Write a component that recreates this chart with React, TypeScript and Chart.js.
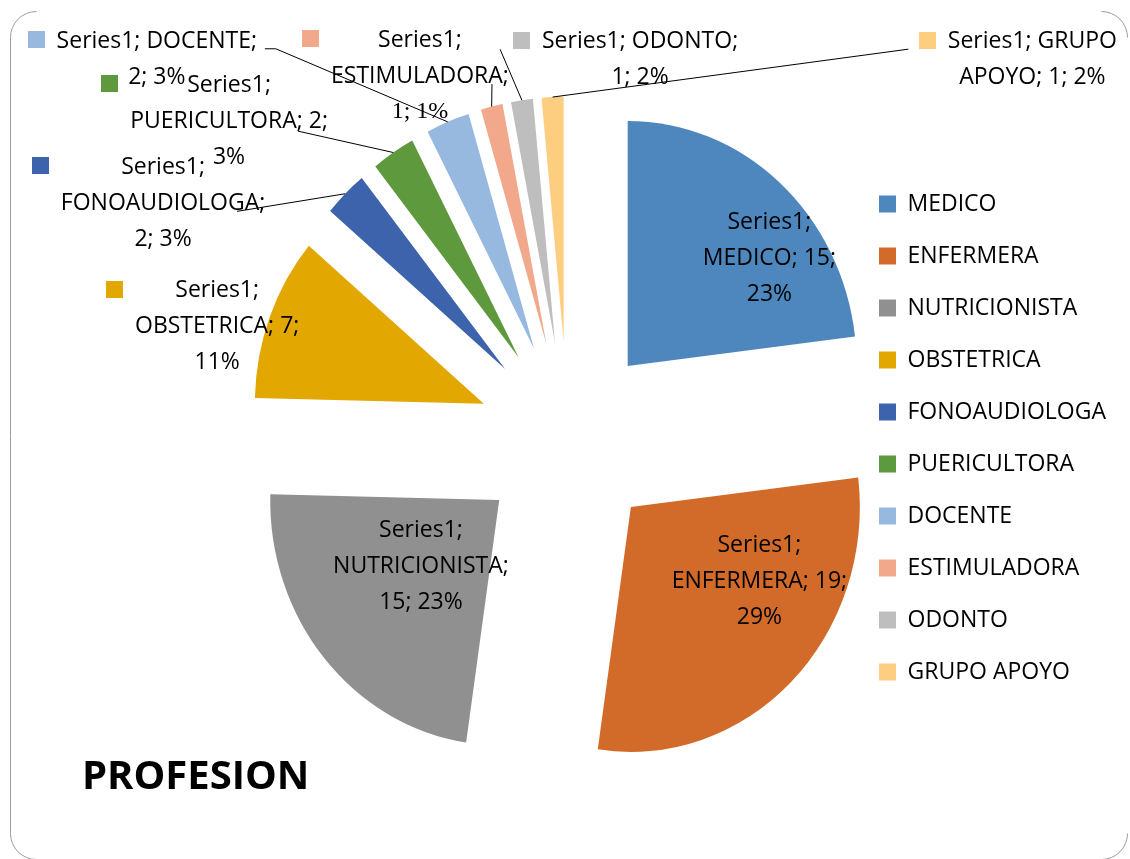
import React, { useEffect, useRef } from "react";
import { Chart, registerables } from "chart.js";

Chart.register(...registerables);

// ---------- data ----------
const seriesName = "Series1";
const categories = [
  "MEDICO",
  "ENFERMERA",
  "NUTRICIONISTA",
  "OBSTETRICA",
  "FONOAUDIOLOGA",
  "PUERICULTORA",
  "DOCENTE",
  "ESTIMULADORA",
  "ODONTO",
  "GRUPO APOYO",
];
const values = [15, 19, 15, 7, 2, 2, 2, 1, 1, 1];
const percentLabels = [23, 29, 23, 11, 3, 3, 3, 1, 2, 2];
const colors = [
  "#4E87BE",
  "#D26B2A",
  "#909090",
  "#E2A700",
  "#3C63AC",
  "#5F993D",
  "#97B9E0",
  "#F1A88B",
  "#BEBEBE",
  "#FECE80",
];
const chartTitle = "PROFESION";

// ---------- label layout ----------
// number of words on each wrapped line of every data label
const labelLineWords = [
  [1, 2, 1],
  [1, 2, 1],
  [1, 1, 2],
  [1, 2, 1],
  [1, 1, 2],
  [1, 2, 1],
  [2, 2],
  [1, 1, 2],
  [2, 2],
  [2, 3],
];
// distance of label centre from pie centre and angular shift from slice middle (deg)
const labelRadius = [270, 239, 195, 368, 468, 464, 559, 391, 385, 599];
const labelAngleShift = [6.7, -8.9, -0.9, -3.2, -15.6, -13.7, -25.2, -8.4, 19.1, 53.6];
// leader line start relative to label centre
const leaderFrom: (number[] | null)[] = [
  null,
  null,
  null,
  null,
  [74, 8],
  [69, 10],
  [108, -10.5],
  [72, 8],
  [-140, -10.5],
  [-124, -10.5],
];
const leaderJog = [0, 0, 0, 0, 0, 0, 11, 0, 0, 0];
const serifLastLine = [false, false, false, false, false, false, false, true, false, false];

const FONT_FAMILY = "'Open Sans', sans-serif";
const LABEL_SIZE = 23;
const LINE_H = 36;
const PIE_RADIUS = 229;
const EXPLODE = 90;
const Y_STRETCH = 1.07;
const LEGEND_LEFT = 850;
const LEGEND_PAD = 29;
const LEGEND_BOX = 17;

const pieCenter = (chart: any) => {
  const a = chart.chartArea;
  return { cx: (a.left + a.right) / 2, cy: (a.top + a.bottom) / 2 };
};

const excelPlugin = {
  id: "excelLook",
  beforeDraw(chart: any) {
    const ctx = chart.ctx;
    ctx.save();
    ctx.fillStyle = "#ffffff";
    ctx.fillRect(0, 0, chart.width, chart.height);
    // chart-area frame (only its left side and corners show in the picture)
    const x0 = 10.5, y0 = 11.5, x1 = chart.width - 2.5, y1 = chart.height + 0.5, r = 26;
    ctx.strokeStyle = "#9c9c9c";
    ctx.lineWidth = 1;
    ctx.beginPath();
    ctx.arc(x0 + r, y0 + r, r, Math.PI * 1.5, Math.PI, true);
    ctx.lineTo(x0, y1 - r);
    ctx.arc(x0 + r, y1 - r, r, Math.PI, Math.PI * 0.5, true);
    ctx.moveTo(x1 - r, y0);
    ctx.arc(x1 - r, y0 + r, r, Math.PI * 1.5, 0);
    ctx.moveTo(x1, y1 - r);
    ctx.arc(x1 - r, y1 - r, r, 0, Math.PI * 0.5);
    ctx.stroke();
    ctx.restore();
  },
  afterDatasetsUpdate(chart: any) {
    // explode every slice along its middle angle
    const meta = chart.getDatasetMeta(0);
    meta.data.forEach((arc: any) => {
      const mid = (arc.startAngle + arc.endAngle) / 2;
      arc.x += EXPLODE * Math.cos(mid);
      arc.y += EXPLODE * Math.sin(mid);
    });
  },
  beforeDatasetDraw(chart: any) {
    const ctx = chart.ctx;
    const { cy } = pieCenter(chart);
    ctx.save();
    ctx.translate(0, cy);
    ctx.scale(1, Y_STRETCH);
    ctx.translate(0, -cy);
  },
  afterDatasetDraw(chart: any) {
    chart.ctx.restore();
  },
  afterDatasetsDraw(chart: any) {
    const ctx = chart.ctx;
    const meta = chart.getDatasetMeta(0);
    const { cx, cy } = pieCenter(chart);
    ctx.save();
    meta.data.forEach((arc: any, i: number) => {
      const mid = (arc.startAngle + arc.endAngle) / 2;
      const ang = mid + (labelAngleShift[i] * Math.PI) / 180;
      const bx = cx + labelRadius[i] * Math.cos(ang);
      const by = cy + labelRadius[i] * Math.sin(ang);
      const words = `${seriesName}; ${categories[i]}; ${values[i]}; ${percentLabels[i]}%`.split(" ");
      const lines: string[] = [];
      let w = 0;
      labelLineWords[i].forEach((n) => {
        lines.push(words.slice(w, w + n).join(" "));
        w += n;
      });
      const sansFont = `${LABEL_SIZE}px ${FONT_FAMILY}`;
      const serifFont = `24px 'Liberation Serif', serif`;
      let blockW = 0;
      lines.forEach((l, k) => {
        ctx.font = serifLastLine[i] && k === lines.length - 1 ? serifFont : sansFont;
        blockW = Math.max(blockW, ctx.measureText(l).width);
      });
      const top = by - ((lines.length - 1) * LINE_H) / 2;
      ctx.fillStyle = "#000";
      ctx.textAlign = "center";
      ctx.textBaseline = "middle";
      lines.forEach((l, k) => {
        ctx.font = serifLastLine[i] && k === lines.length - 1 ? serifFont : sansFont;
        ctx.fillText(l, bx, top + k * LINE_H);
      });
      // legend key of the data label
      ctx.fillStyle = colors[i];
      ctx.fillRect(Math.round(bx - blockW / 2 - 29), Math.round(top - 10), 17, 17);
      // leader line to the slice's outer edge
      const from = leaderFrom[i];
      if (from) {
        const ex = arc.x + arc.outerRadius * Math.cos(mid);
        const eyRaw = arc.y + arc.outerRadius * Math.sin(mid);
        const ey = cy + (eyRaw - cy) * Y_STRETCH;
        const sx = bx + from[0];
        const sy = by + from[1];
        ctx.strokeStyle = "#000";
        ctx.lineWidth = 1;
        ctx.beginPath();
        ctx.moveTo(sx, sy);
        if (leaderJog[i]) ctx.lineTo(sx + leaderJog[i], sy);
        ctx.lineTo(ex, ey);
        ctx.stroke();
      }
    });
    ctx.restore();
  },
  afterDraw(chart: any) {
    const ctx = chart.ctx;
    ctx.save();
    ctx.fillStyle = "#000";
    ctx.font = `bold 40px ${FONT_FAMILY}`;
    ctx.textAlign = "left";
    ctx.textBaseline = "alphabetic";
    ctx.fillText(chartTitle, 82, 789);
    ctx.restore();
  },
};

export default function App() {
  const ref = useRef<HTMLCanvasElement | null>(null);
  useEffect(() => {
    if (!ref.current) return;
    // legend width as Chart.js will measure it, so the legend starts at LEGEND_LEFT
    const mctx = document.createElement("canvas").getContext("2d")!;
    mctx.font = `${LABEL_SIZE}px ${FONT_FAMILY}`;
    const maxText = Math.max(...categories.map((c) => mctx.measureText(c).width));
    const legendWidth = LEGEND_PAD + LEGEND_BOX + LABEL_SIZE / 2 + maxText + 10;
    const padRight = 1130 - LEGEND_LEFT - legendWidth;
    const centerX = 568;
    const padLeft = 2 * centerX - LEGEND_LEFT;

    const chart = new Chart(ref.current, {
      type: "pie",
      data: {
        labels: categories,
        datasets: [
          {
            label: seriesName,
            data: values,
            backgroundColor: colors,
            borderWidth: 0,
            radius: PIE_RADIUS,
            clip: false,
          } as any,
        ],
      },
      options: {
        responsive: false,
        animation: false,
        devicePixelRatio: 1,
        layout: { padding: { left: padLeft, right: padRight, top: 17, bottom: 0 } },
        plugins: {
          tooltip: { enabled: false },
          title: { display: false },
          legend: {
            position: "right",
            align: "center",
            maxWidth: 600,
            labels: {
              boxWidth: LEGEND_BOX,
              boxHeight: LEGEND_BOX,
              padding: LEGEND_PAD,
              color: "#000",
              font: { family: FONT_FAMILY, size: LABEL_SIZE },
            },
          },
        },
      } as any,
      plugins: [excelPlugin as any],
    });
    return () => chart.destroy();
  }, []);
  return (
    <div style={{ position: "absolute", left: 0, top: 0, width: 1130, height: 859, background: "#fff" }}>
      <canvas ref={ref} width={1130} height={859} style={{ display: "block" }} />
    </div>
  );
}
